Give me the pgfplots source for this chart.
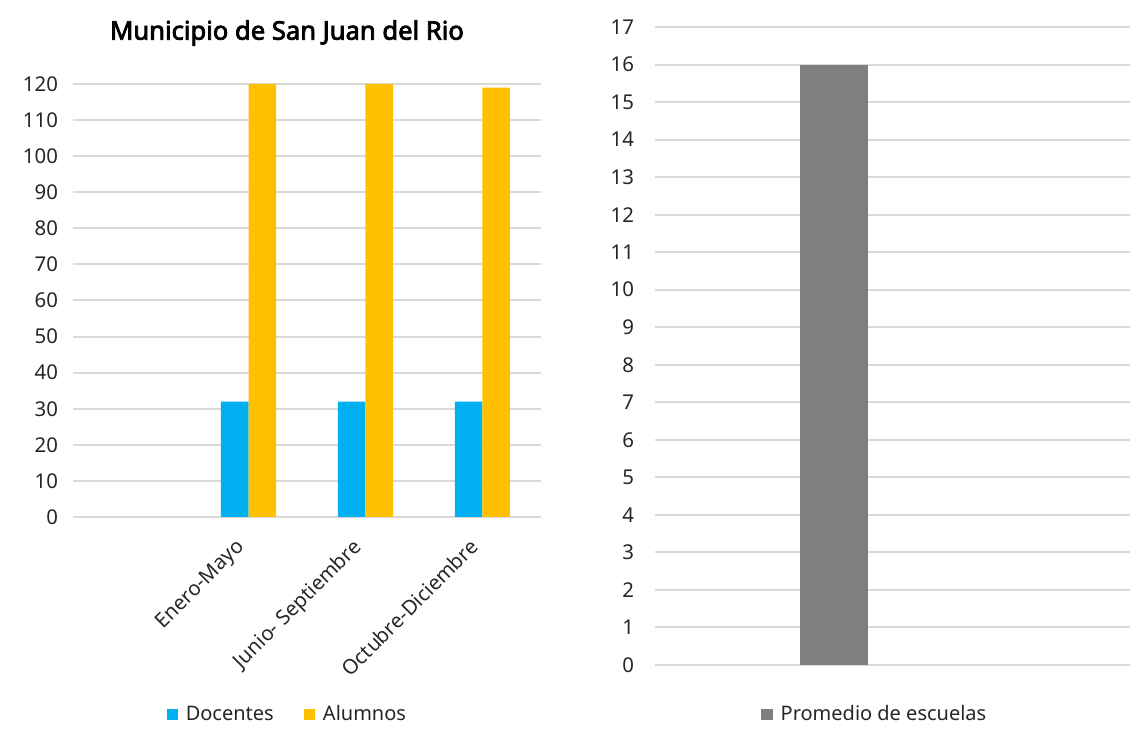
\documentclass[border=0pt]{standalone}
\usepackage{pgfplots}
\pgfplotsset{compat=1.18}
\usepackage{fontspec}
\setmainfont{Noto Sans}[AutoFakeBold=3]
\definecolor{cBlue}{HTML}{00B0F0}
\definecolor{cOrange}{HTML}{FFC000}
\definecolor{cGray}{HTML}{7F7F7F}
\definecolor{cGrid}{HTML}{D9D9D9}
\definecolor{cText}{HTML}{262626}

\pgfplotsset{
  excel/.style={
    scale only axis,
    axis line style={draw=none},
    ymajorgrids, major grid style={cGrid, line width=1pt},
    xtick style={draw=none}, ytick style={draw=none},
    tick label style={font=\fontsize{10.2}{11}\selectfont, text=cText},
    /pgf/number format/assume math mode=true,
    legend style={draw=none, font=\fontsize{10}{11}\selectfont, text=cText,
      /tikz/every odd column/.append style={column sep=2pt},
      /tikz/every even column/.append style={column sep=13pt}},
    legend cell align=left,
  },
  sq legend/.style={
    legend image code/.code={\fill[##1] (0pt,-2.8pt) rectangle (5.6pt,2.8pt);},
  }
}

\begin{document}
\begin{tikzpicture}
\path (0,0) rectangle (573pt,364.5pt);
\node[font=\bfseries\fontsize{12.8}{14}\selectfont, text=black] at (143.5pt,348pt) {Municipio de San Juan del Rio};

\begin{axis}[excel,
  at={(36.5pt,106pt)}, anchor=south west,
  width=234pt, height=216.5pt,
  ybar=0pt, bar width=13.75pt, sq legend,
  xmin=-0.5, xmax=3.5, ymin=0, ymax=120,
  ytick={0,10,...,120},
  xtick={0,1,2,3},
  xticklabels={{}, Enero-Mayo, Junio- Septiembre, Octubre-Diciembre},
  x tick label style={xshift=-7pt, yshift=-1pt, rotate=45, anchor=north east},
  yticklabel style={xshift=-4pt},
  legend columns=2,
  legend style={at={(0.46,-0.457)}, anchor=center},
]
\addplot[fill=cBlue, draw=none] coordinates {(1,32) (2,32) (3,32)};
\addplot[fill=cOrange, draw=none] coordinates {(1,120) (2,120) (3,119)};
\legend{Docentes, Alumnos}
\end{axis}

\begin{axis}[excel,
  at={(327.5pt,32pt)}, anchor=south west,
  width=237.5pt, height=319pt,
  ybar=0pt, bar width=34pt, sq legend,
  xmin=0, xmax=1, ymin=0, ymax=17,
  ytick={0,1,...,17},
  xtick=\empty,
  yticklabel style={xshift=-7pt},
  legend style={at={(0.465,-0.078)}, anchor=center},
]
\addplot[fill=cGray, draw=none] coordinates {(0.377,16)};
\legend{Promedio de escuelas}
\end{axis}
\end{tikzpicture}
\end{document}
